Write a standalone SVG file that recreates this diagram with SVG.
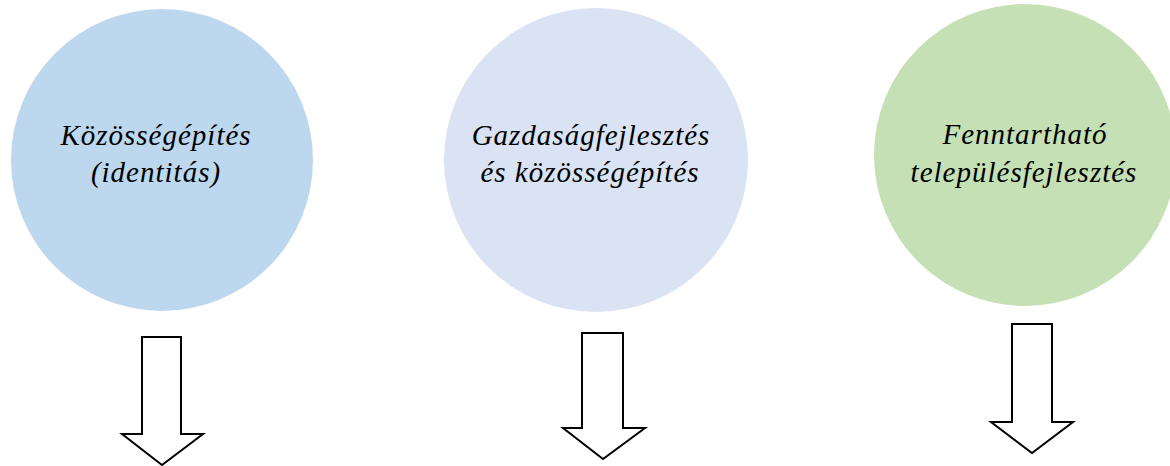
<svg xmlns="http://www.w3.org/2000/svg" width="1170" height="466" viewBox="0 0 1170 466">
<style>
.t{font-family:"Liberation Serif","Times New Roman",serif;font-style:italic;font-size:29px;fill:#000;text-anchor:middle;letter-spacing:1px}
.a{fill:#fff;stroke:#000;stroke-width:2;stroke-linejoin:miter}
</style>
<rect width="1170" height="466" fill="#fff"/>
<g id="node1">
<circle cx="162" cy="160" r="151" fill="#BDD7EE"/>
<text class="t" x="156" y="145">Közösségépítés</text>
<text class="t" x="156" y="182">(identitás)</text>
</g>
<g id="node2">
<circle cx="596" cy="160" r="152" fill="#DAE3F3"/>
<text class="t" x="591" y="145">Gazdaságfejlesztés</text>
<text class="t" x="590" y="182">és közösségépítés</text>
</g>
<g id="node3">
<circle cx="1025" cy="155" r="151" fill="#C5E0B4"/>
<text class="t" x="1025" y="144">Fenntartható</text>
<text class="t" x="1024" y="182">településfejlesztés</text>
</g>
<g id="connectors">
<path class="a" d="M142,337 H181 V434 H203 L162,465 L122,434 H142 Z"/>
<path class="a" d="M582,333 H623 V428 H645 L603,459 L563,428 H582 Z"/>
<path class="a" d="M1012,324 H1052 V422 H1073 L1032,453 L991,422 H1012 Z"/>
</g>
</svg>
